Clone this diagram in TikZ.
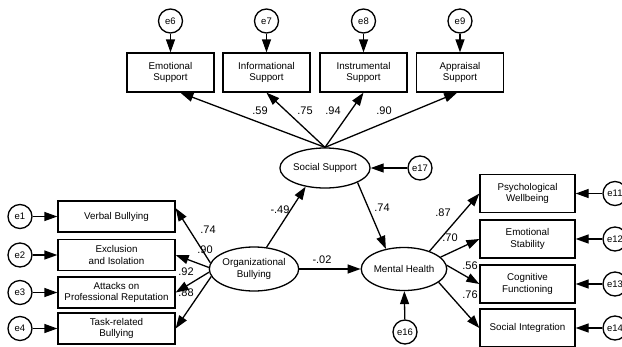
\documentclass[tikz,border=0pt]{standalone}
\usepackage{fontspec}
\setmainfont{Liberation Sans}
\usetikzlibrary{arrows.meta,shapes.geometric,calc}
\begin{document}
\begin{tikzpicture}[x=1pt,y=-1pt,
  box/.style={draw,line width=1.3pt,rectangle,inner sep=1pt,align=center,font=\fontsize{9.8}{11.5}\selectfont},
  topbox/.style={box,minimum width=87pt,minimum height=39pt},
  leftbox/.style={box,minimum width=117pt,minimum height=31pt},
  rightbox/.style={box,minimum width=95pt,minimum height=38pt},
  latent/.style={draw,line width=1.3pt,ellipse,inner sep=0pt,align=center,font=\fontsize{9.8}{11.5}\selectfont},
  err/.style={draw,line width=1.3pt,circle,inner sep=0pt,minimum size=24pt,font=\fontsize{9.5}{10}\selectfont},
  arr/.style={line width=1.3pt,-{Triangle[length=13pt,width=9pt]}},
  lbl/.style={inner sep=0pt,font=\fontsize{11}{12}\selectfont}]
\useasboundingbox (0,0) rectangle (622,346);
\clip (0,0) rectangle (622,346);
% top indicators
\node[topbox] (emo) at (170.5,72.5) {Emotional\\Support};
\node[topbox] (inf) at (266.5,72.5) {Informational\\Support};
\node[topbox] (ins) at (363.5,72.5) {Instrumental\\Support};
\node[topbox] (app) at (460,72.5) {Appraisal\\Support};
\node[err] (e6) at (170.5,21) {e6};
\node[err] (e7) at (266.5,21) {e7};
\node[err] (e8) at (363.5,21) {e8};
\node[err] (e9) at (460,21) {e9};
% latents
\node[latent,minimum width=84pt,minimum height=40pt] (ss) at (325,168) {Social Support};
\node[latent,minimum width=74pt,minimum height=44pt] (ob) at (254,269) {Organizational\\Bullying};
\node[latent,minimum width=76pt,minimum height=43pt] (mh) at (404,269) {Mental Health};
\node[err] (e17) at (420,168) {e17};
\node[err] (e16) at (405,332) {e16};
% left indicators
\node[leftbox] (vb) at (116.5,216.5) {Verbal Bullying};
\node[leftbox] (ex) at (116.5,255) {Exclusion\\and Isolation};
\node[leftbox] (at) at (116.5,292.5) {Attacks on\\Professional Reputation};
\node[leftbox] (tb) at (116.5,328.5) {Task-related\\Bullying};
\node[err] (e1) at (20,216.5) {e1};
\node[err] (e2) at (20,255) {e2};
\node[err] (e3) at (20,292.5) {e3};
\node[err] (e4) at (20,328.5) {e4};
% right indicators
\node[rightbox] (pw) at (527.5,193.5) {Psychological\\Wellbeing};
\node[rightbox] (es) at (527.5,239) {Emotional\\Stability};
\node[rightbox] (cf) at (527.5,284) {Cognitive\\Functioning};
\node[rightbox] (si) at (527.5,328) {Social Integration};
\node[err] (e11) at (615,193.5) {e11};
\node[err] (e12) at (615,239) {e12};
\node[err] (e13) at (615,284) {e13};
\node[err] (e14) at (615,328) {e14};
% error arrows
\draw[arr] (e6) -- (emo);
\draw[arr] (e7) -- (inf);
\draw[arr] (e8) -- (ins);
\draw[arr] (e9) -- (app);
\draw[arr] (e1) -- (vb);
\draw[arr] (e2) -- (ex);
\draw[arr] (e3) -- (at);
\draw[arr] (e4) -- (tb);
\draw[arr] (e11) -- (pw);
\draw[arr] (e12) -- (es);
\draw[arr] (e13) -- (cf);
\draw[arr] (e14) -- (si);
\draw[arr] (e17) -- (ss);
\draw[arr] (e16) -- (mh);
% loadings
\draw[arr] (ss.north) -- (emo.-64);
\draw[arr] (ss.north) -- (inf.south);
\draw[arr] (ss.north) -- (ins.south);
\draw[arr] (ss.north) -- (app.-98);
\draw[arr] (ob.172) -- (vb.8);
\draw[arr] (ob.178) -- (ex.east);
\draw[arr] (ob.184) -- (at.east);
\draw[arr] (ob.190) -- (tb.east);
\draw[arr] (mh.35) -- (pw.west);
\draw[arr] (mh.18) -- (es.west);
\draw[arr] (mh.5) -- (cf.west);
\draw[arr] (mh.-21) -- (si.west);
% structural
\draw[arr] (ob.60) -- (ss.-136);
\draw[arr] (ss.-24) -- (mh.132);
\draw[arr] (ob.east) -- (mh.west);
% labels
\node[lbl] (l1) at (260,111) {.59};
\node[lbl] (l2) at (305,111) {.75};
\node[lbl] (l3) at (333,111) {.94};
\node[lbl] (l4) at (384,111) {.90};
\node[lbl] (l5) at (280,210) {-.49};
\node[lbl] (l6) at (382,208) {.74};
\node[lbl] (l7) at (322,260) {-.02};
\node[lbl] (l8) at (208,230) {.74};
\node[lbl] (l9) at (205,250) {.90};
\node[lbl] (l10) at (186,272) {.92};
\node[lbl] (l11) at (186,293) {.88};
\node[lbl] (l12) at (443,213) {.87};
\node[lbl] (l13) at (450,238) {.70};
\node[lbl] (l14) at (470,266) {.56};
\node[lbl] (l15) at (470,295) {.76};
\end{tikzpicture}
\end{document}
